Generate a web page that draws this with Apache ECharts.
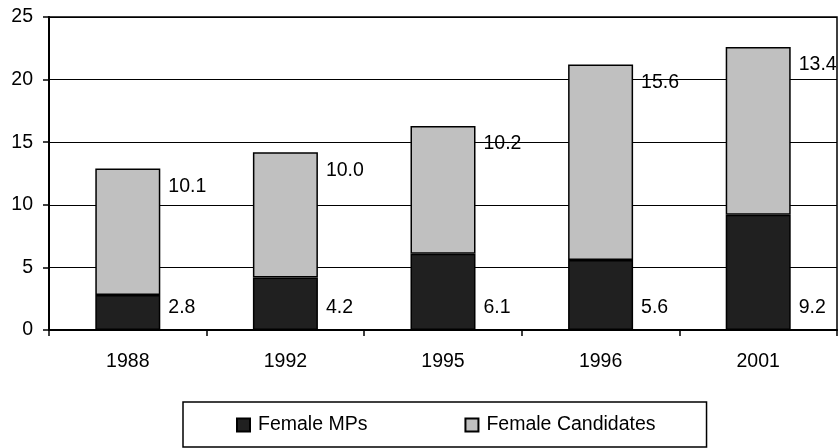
<!DOCTYPE html>
<html>
<head>
<meta charset="utf-8">
<script src="https://cdn.jsdelivr.net/npm/echarts@6/dist/echarts.min.js"></script>
<style>html,body{margin:0;padding:0;background:#fff;}#c{width:838px;height:448px;}</style>
</head>
<body>
<div id="c"></div>
<script>
var years = ['1988', '1992', '1995', '1996', '2001'];
var femaleMPs = [2.8, 4.2, 6.1, 5.6, 9.2];
var femaleCandidates = [10.1, 10.0, 10.2, 15.6, 13.4];
var yTicks = [0, 5, 10, 15, 20, 25];

var FONT = "'Liberation Sans', Arial, sans-serif";
var FS = 19.5;
var chart = echarts.init(document.getElementById('c'), null, {renderer: 'canvas'});
chart.setOption({
  animation: false,
  backgroundColor: '#fff',
  textStyle: {fontFamily: FONT},
  grid: {left: 49, right: 1, top: 17, bottom: 118, show: true, borderColor: '#000', borderWidth: 1.5, backgroundColor: 'transparent'},
  legend: {
    left: 183, top: 402,
    orient: 'horizontal',
    itemWidth: 13, itemHeight: 13, itemGap: 97,
    icon: 'rect',
    borderColor: '#000', borderWidth: 1.5, borderRadius: 0,
    padding: [13, 51, 12, 53],
    textStyle: {fontFamily: FONT, fontSize: FS, color: '#000', padding: [0, 0, 0, 3]},
    data: ['Female MPs', 'Female Candidates']
  },
  xAxis: {
    type: 'category',
    data: years,
    boundaryGap: true,
    axisLine: {show: true, lineStyle: {color: '#000', width: 2}},
    axisTick: {show: true, inside: false, length: 6, alignWithLabel: false, lineStyle: {color: '#000', width: 1.5}},
    axisLabel: {fontFamily: FONT, fontSize: FS, color: '#000', margin: 22},
    splitLine: {show: false}
  },
  yAxis: {
    type: 'value',
    min: yTicks[0], max: yTicks[yTicks.length - 1], interval: 5,
    axisLine: {show: true, lineStyle: {color: '#000', width: 2}},
    axisTick: {show: true, inside: false, length: 6, lineStyle: {color: '#000', width: 1.5}},
    axisLabel: {fontFamily: FONT, fontSize: FS, color: '#000', margin: 16},
    splitLine: {show: true, lineStyle: {color: '#000', width: 1}}
  },
  series: [
    {
      name: 'Female MPs',
      type: 'bar',
      stack: 'total',
      barWidth: 65,
      data: femaleMPs,
      itemStyle: {color: '#202020', borderColor: '#000', borderWidth: 1.5},
      label: {
        show: true,
        position: ['100%', '100%'],
        offset: [8, -22],
        align: 'left', verticalAlign: 'middle',
        fontFamily: FONT, fontSize: FS, color: '#000',
        formatter: function (p) { return p.value.toFixed(1); }
      }
    },
    {
      name: 'Female Candidates',
      type: 'bar',
      stack: 'total',
      barWidth: 65,
      data: femaleCandidates,
      itemStyle: {color: '#c0c0c0', borderColor: '#000', borderWidth: 1.5},
      label: {
        show: true,
        position: ['100%', 0],
        offset: [8, 18],
        align: 'left', verticalAlign: 'middle',
        fontFamily: FONT, fontSize: FS, color: '#000',
        formatter: function (p) { return p.value.toFixed(1); }
      }
    }
  ]
});
</script>
</body>
</html>
